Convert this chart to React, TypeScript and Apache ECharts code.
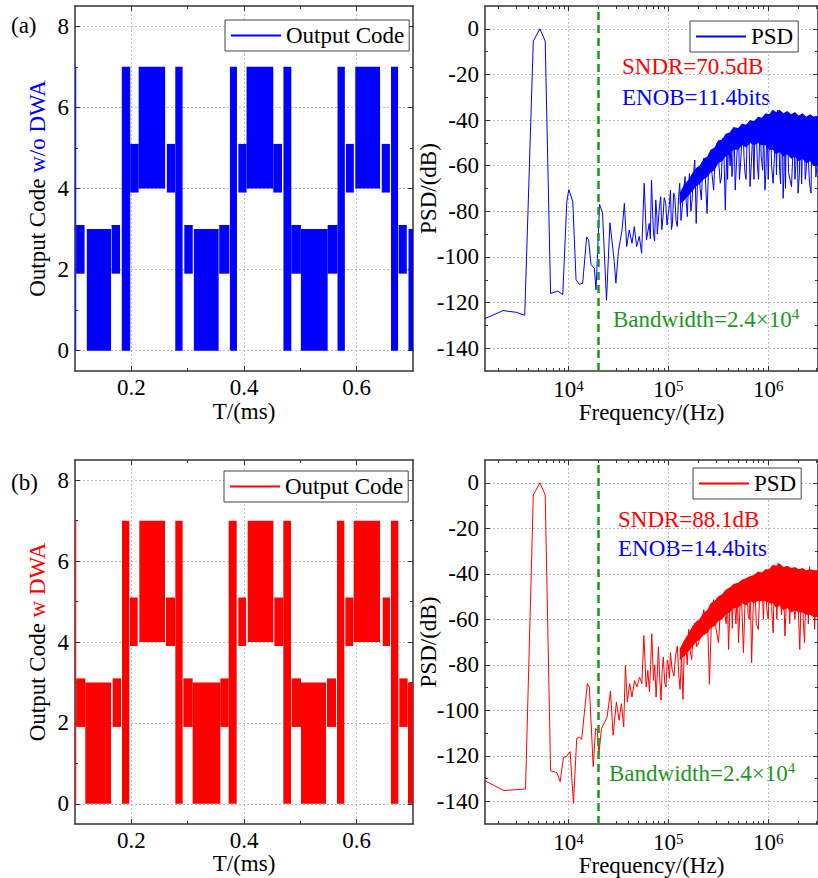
import React, { useEffect, useRef } from 'react';
import * as echarts from 'echarts';

const FONT = 'Liberation Serif, Times New Roman, serif';
const BLUE = '#0000ff';
const RED = '#ff0000';
const GREEN = '#1e961e';

// ---- time-domain output code: dense toggling blocks [tStart(ms), tEnd(ms), lowCode, highCode]
const codeBlocksA = [
  [0.1006, 0.1022, 0, 7], [0.102, 0.117, 1.9, 3.1], [0.121, 0.164, 0, 3], [0.165, 0.18, 1.9, 3.1],
  [0.183, 0.198, 0, 7], [0.198, 0.213, 3.9, 5.1], [0.213, 0.26, 4, 7], [0.263, 0.2775, 3.9, 5.1],
  [0.278, 0.291, 0, 7], [0.294, 0.309, 1.9, 3.1], [0.311, 0.355, 0, 3], [0.356, 0.374, 1.9, 3.1],
  [0.375, 0.3875, 0, 7], [0.39, 0.4045, 3.9, 5.1], [0.4045, 0.452, 4, 7], [0.452, 0.4675, 3.9, 5.1],
  [0.47, 0.484, 0, 7], [0.484, 0.501, 1.9, 3.1], [0.501, 0.5485, 0, 3], [0.5485, 0.566, 1.9, 3.1],
  [0.566, 0.579, 0, 7], [0.581, 0.595, 3.9, 5.1], [0.5975, 0.6415, 4, 7], [0.6445, 0.659, 3.9, 5.1],
  [0.661, 0.6735, 0, 7], [0.6745, 0.689, 1.9, 3.1], [0.692, 0.7, 0, 3],
];
const codeBlocksB = [
  [0.1006, 0.1022, 0, 7], [0.102, 0.1183, 1.9, 3.1], [0.1183, 0.164, 0, 3], [0.1669, 0.1817, 1.9, 3.1],
  [0.1834, 0.1964, 0, 7], [0.1976, 0.2112, 3.9, 5.1], [0.2142, 0.2598, 4, 7], [0.2615, 0.2775, 3.9, 5.1],
  [0.2781, 0.2911, 0, 7], [0.2923, 0.3089, 1.9, 3.1], [0.3089, 0.358, 0, 3], [0.358, 0.3728, 1.9, 3.1],
  [0.3728, 0.387, 0, 7], [0.3899, 0.4036, 3.9, 5.1], [0.4065, 0.4521, 4, 7], [0.4538, 0.4698, 3.9, 5.1],
  [0.4698, 0.4834, 0, 7], [0.4846, 0.5012, 1.9, 3.1], [0.5012, 0.5456, 0, 3], [0.5473, 0.5633, 1.9, 3.1],
  [0.5651, 0.5781, 0, 7], [0.5799, 0.5941, 3.9, 5.1], [0.5947, 0.6414, 4, 7], [0.6462, 0.6592, 3.9, 5.1],
  [0.6609, 0.674, 0, 7], [0.6757, 0.6905, 1.9, 3.1], [0.6911, 0.7, 0, 3],
];

// ---- PSD without DWA: [frequency (Hz), PSD (dB)]
const psdALow = [[1460, -127], [2218, -123.5], [3020, -124.3], [3648, -125.6], [4446, -5.4], [5176, 0],
  [5848, -5.4], [6622, -116], [7834, -115], [8770, -116.5], [9616, -76], [10070, -70.5], [11040, -75.6],
  [11910, -110], [12850, -112], [13870, -111.5], [15210, -91.3], [15920, -92.5], [16830, -103.4],
  [18160, -105], [18880, -114.4], [20500, -77], [21930, -80.7], [24040, -119], [26000, -85], [27230, -92.6],
  [28710, -102], [29850, -111.5], [31620, -97.6], [34400, -88.2], [36300, -76.5], [38300, -95.5],
  [40600, -88.2], [43300, -94], [45600, -86.7], [48100, -95.5], [51200, -91], [54000, -98.4], [57300, -67.7],
  [60400, -92.6]];
const psdAHigh = [[64300, -85.3], [66000, -92], [67800, -66.3], [69500, -80], [71000, -89.6], [72800, -93],
  [74800, -75], [76800, -82], [77500, -90], [79600, -83.8], [81500, -78], [83900, -73.6], [86000, -88],
  [88500, -82.3], [91000, -74], [94200, -76.5], [97000, -86], [100000, -80.9], [102500, -77], [105000, -70.7],
  [107500, -88], [110000, -85.3], [113000, -72], [116000, -73.6], [119500, -84], [123000, -86.7],
  [126500, -74], [130000, -67.7], [134000, -84], [138000, -78], [142500, -70], [147000, -64.8], [151000, -76],
  [155000, -82.3], [159000, -68], [163000, -63.4], [168000, -80], [173000, -75], [178000, -64],
  [184000, -57.5], [190000, -85.3], [196000, -66], [202000, -61.9], [208000, -70], [214000, -75],
  [220000, -62], [226000, -56.8], [235000, -66], [244000, -80.9], [254000, -58], [264000, -54.6],
  [274000, -64], [284000, -70.7], [295000, -55], [307000, -50.2], [319000, -58], [331000, -67.7],
  [340000, -65], [350000, -48], [360000, -55], [372000, -79.4], [385000, -52], [392000, -66], [401000, -47.3],
  [415000, -60], [425000, -50], [433000, -64.8], [440000, -62], [450000, -45], [458000, -48], [467000, -70.7],
  [480000, -60], [490000, -52], [504000, -44.4], [515000, -66], [530000, -58], [545000, -48], [560000, -43],
  [572000, -56], [586000, -63.4], [600000, -66], [620000, -42], [640000, -45], [658000, -69.2], [680000, -58],
  [700000, -44], [720000, -66], [738000, -41.5], [760000, -44], [780000, -60], [800000, -66], [830000, -40],
  [850000, -56], [880000, -62], [900000, -44], [927000, -70.7], [950000, -62], [970000, -39], [1000000, -66],
  [1040000, -38.5], [1060000, -45], [1080000, -60], [1120000, -67.7], [1150000, -57], [1180000, -37],
  [1210000, -64], [1240000, -35.6], [1270000, -40], [1300000, -62], [1330000, -68], [1360000, -37],
  [1390000, -50], [1410000, -74.3], [1440000, -63], [1460000, -39], [1490000, -70], [1520000, -37],
  [1560000, -45], [1600000, -63], [1650000, -66], [1710000, -69.2], [1750000, -58], [1800000, -38],
  [1850000, -66], [1890000, -60], [1940000, -45], [1990000, -72.1], [2050000, -64], [2100000, -40],
  [2160000, -68], [2230000, -37.8], [2300000, -50], [2350000, -66], [2400000, -62], [2480000, -42],
  [2540000, -60], [2590000, -67.7], [2680000, -72], [2750000, -40], [2820000, -60], [2910000, -38.5],
  [3000000, -65], [3160000, -55]];
const bandAFreq = [130000, 145000, 160000, 175000, 190000, 205000, 225000, 245000, 265000, 290000, 315000,
  345000, 375000, 410000, 450000, 500000, 550000, 600000, 660000, 720000, 790000, 860000, 940000, 1020000,
  1110000, 1200000, 1300000, 1420000, 1550000, 1700000, 1850000, 2020000, 2200000, 2400000, 2620000,
  2860000, 3200000];
const bandAUpper = [-72, -68, -66, -63, -61, -60, -57, -56, -53, -52, -49, -48.5, -46, -45.5, -43, -43.5,
  -41.5, -42, -40, -40.5, -38.5, -39, -37, -37.5, -35.5, -36.5, -35.5, -37, -36, -37.5, -36.5, -38, -37,
  -38.5, -37.5, -38.5, -38];
const bandALower = [-77, -75, -73, -71, -69, -68, -66, -65, -63, -62, -59, -58, -56, -55, -53, -53, -51,
  -52, -50, -51, -50, -51, -51, -53, -53, -55, -54, -56, -55, -57, -56, -58, -57, -59, -58, -60, -60];

// ---- PSD with DWA: [frequency (Hz), PSD (dB)]
const psdBLow = [[1460, -131], [2260, -135.3], [3715, -134.6], [4446, -5.4], [5176, 0], [5848, -5.4],
  [6622, -126.6], [7650, -127.4], [8260, -131.4], [8910, -120.7], [9480, -120.4], [10390, -118.2],
  [11220, -140.9], [12100, -112.4], [12860, -111.7], [13560, -112.8], [15450, -88.3], [16180, -89.8],
  [17700, -124.8], [18700, -108], [19400, -108.8], [20180, -119], [21420, -108], [23120, -105.1],
  [24380, -102.9], [26340, -91.5], [27990, -111], [30200, -96.4], [32140, -104.4], [33880, -97.1],
  [35730, -107.3], [37150, -80.3], [38840, -96.4], [41000, -88.3], [43250, -94.2], [45920, -86.9],
  [48420, -89.8], [51520, -85.4], [54330, -88.3], [56890, -67.2], [59980, -89.8]];
const psdBHigh = [[62370, -82.5], [64730, -92], [66500, -80], [68240, -66.4], [71000, -86.9], [73000, -80],
  [75400, -94.2], [77500, -84], [79600, -72.3], [82000, -86], [84500, -95.6], [86800, -82], [89100, -76.6],
  [92000, -88], [94800, -89.8], [97500, -78], [100000, -80], [102500, -86], [105000, -74.7], [109000, -82],
  [114000, -85], [118000, -76], [123000, -71.8], [127000, -84], [131000, -90.8], [135500, -76],
  [140000, -95.2], [144500, -72], [149000, -68.9], [154500, -80], [160000, -64.5], [165500, -74],
  [171000, -77.7], [177500, -66], [184000, -61.6], [192000, -72], [202000, -70.4], [210000, -60],
  [218000, -66], [226000, -55.8], [235000, -64], [246000, -58], [258000, -88.6], [270000, -60],
  [284000, -51.4], [300000, -64], [318000, -70.4], [330000, -58], [340000, -52], [357000, -49.9],
  [368000, -58], [380000, -62], [390000, -50], [401000, -73.3], [412000, -56], [425000, -48], [437000, -64],
  [449000, -45.5], [462000, -54], [475000, -62], [490000, -48], [504000, -70.4], [520000, -56], [535000, -46],
  [550000, -60], [565000, -74.7], [588000, -50], [610000, -44.1], [628000, -58], [645000, -60], [662000, -46],
  [682000, -79.1], [705000, -56], [730000, -43], [760000, -62], [796000, -64.5], [828000, -44], [860000, -41],
  [895000, -60], [927000, -39.7], [965000, -55], [1000000, -60], [1030000, -42], [1060000, -38],
  [1090000, -58], [1120000, -66], [1150000, -44], [1180000, -37], [1220000, -60], [1260000, -35.3],
  [1310000, -48], [1360000, -58], [1410000, -40], [1470000, -67.4], [1520000, -52], [1580000, -38],
  [1640000, -62], [1710000, -37.5], [1780000, -50], [1850000, -60], [1950000, -42], [2070000, -73.3],
  [2120000, -55], [2180000, -40], [2240000, -60], [2310000, -70.4], [2380000, -48], [2450000, -39],
  [2520000, -62], [2590000, -36.8], [2670000, -52], [2750000, -58], [2830000, -42], [2910000, -64.5],
  [3020000, -48], [3160000, -50]];
const bandBFreq = [130000, 145000, 160000, 175000, 190000, 205000, 225000, 245000, 265000, 290000, 315000,
  345000, 375000, 410000, 450000, 500000, 550000, 600000, 660000, 720000, 790000, 860000, 940000, 1020000,
  1110000, 1200000, 1300000, 1420000, 1550000, 1700000, 1850000, 2020000, 2200000, 2400000, 2620000,
  2860000, 3200000];
const bandBUpper = [-73, -69, -66, -63, -61, -60, -57, -56, -53, -52, -50, -49, -47, -46, -44.5, -44, -42.5,
  -42, -41, -40.5, -39, -39.5, -38, -38, -36, -36.5, -35.5, -37, -36.5, -37.5, -37, -38, -37.5, -38.5, -38,
  -38.5, -38.5];
const bandBLower = [-78, -76, -74, -72, -70, -69, -67, -66, -64, -63, -61, -60, -58, -57, -55, -55, -53, -54,
  -52, -53, -52, -52, -52, -53, -53, -55, -54, -56, -55, -57, -56, -57, -57, -58, -58, -59, -59];

const bandwidthFreq = 20000;

// ---- tick values
const timeMajor = [0.2, 0.4, 0.6];
const timeMinor = [0.3, 0.5];
const codeMajor = [0, 2, 4, 6, 8];
const codeMinor = [1, 3, 5, 7];
const freqMajor = [1e4, 1e5, 1e6];
const freqMinor = [2e3, 3e3, 4e3, 5e3, 6e3, 7e3, 8e3, 9e3, 2e4, 3e4, 4e4, 5e4, 6e4, 7e4, 8e4, 9e4,
  2e5, 3e5, 4e5, 5e5, 6e5, 7e5, 8e5, 9e5, 2e6, 3e6];
const psdMajor = [0, -20, -40, -60, -80, -100, -120, -140];
const psdMinor = [-10, -30, -50, -70, -90, -110, -130];

const FRAME = { color: '#333', width: 1.5 };
const GRIDLINE = { color: '#bdbdbd', type: [2, 2], width: 1 };
const txt = { fontSize: 23, fontFamily: FONT, color: '#000' };
const supRich = {
  b: { fontSize: 23, fontFamily: FONT, color: '#000' },
  s: { fontSize: 15, fontFamily: FONT, color: '#000', padding: [0, 0, 8, 0] },
};

function axesSet(dim: 'x' | 'y', gridIndex: number, type: string, min: number, max: number,
  major: number[], minor: number[], formatter: any, name: any, nameGap: number, labelMargin: number,
  rich?: any) {
  const common: any = { gridIndex, type, min, max };
  if (type === 'log') common.logBase = 10;
  const p1 = dim === 'x' ? 'bottom' : 'left';
  const p2 = dim === 'x' ? 'top' : 'right';
  const none = { show: false };
  return [
    {
      ...common, position: p1, name, nameLocation: 'middle', nameGap, nameMoveOverlap: false,
      nameTextStyle: { ...txt, rich },
      axisLine: { show: true, onZero: false, lineStyle: FRAME },
      axisTick: { show: true, inside: true, length: 5, customValues: major, lineStyle: { color: '#333', width: 1 } },
      axisLabel: { show: true, customValues: major, formatter, margin: labelMargin, ...txt, rich: supRich },
      splitLine: { show: true, lineStyle: GRIDLINE },
      minorTick: none, minorSplitLine: none,
    },
    {
      ...common, position: p1,
      axisLine: { show: false, onZero: false },
      axisTick: { show: true, inside: true, length: 3, customValues: minor, lineStyle: { color: '#333', width: 1 } },
      axisLabel: none, splitLine: none,
    },
    {
      ...common, position: p2,
      axisLine: { show: true, onZero: false, lineStyle: FRAME },
      axisTick: { show: true, inside: true, length: 5, customValues: major, lineStyle: { color: '#333', width: 1 } },
      axisLabel: none, splitLine: none,
    },
    {
      ...common, position: p2,
      axisLine: { show: false, onZero: false },
      axisTick: { show: true, inside: true, length: 3, customValues: minor, lineStyle: { color: '#333', width: 1 } },
      axisLabel: none, splitLine: none,
    },
  ];
}

function blockSeries(name: string, idx: number, blocks: number[][], color: string) {
  return {
    type: 'custom', name, xAxisIndex: idx, yAxisIndex: idx, clip: true, silent: true,
    data: blocks, encode: { x: [0, 1], y: [2, 3] },
    renderItem: (params: any, api: any) => {
      const p0 = api.coord([api.value(0), api.value(3)]);
      const p1 = api.coord([api.value(1), api.value(2)]);
      return {
        type: 'rect',
        shape: { x: p0[0], y: p0[1], width: p1[0] - p0[0], height: p1[1] - p0[1] },
        style: { fill: color },
      };
    },
    z: 2,
  };
}

function bandSeries(name: string, idx: number, f: number[], up: number[], low: number[], color: string) {
  return {
    type: 'custom', name, xAxisIndex: idx, yAxisIndex: idx, clip: true, silent: true,
    data: f.map((v, i) => [v, up[i], low[i]]), encode: { x: 0, y: [1, 2] },
    renderItem: (params: any, api: any) => {
      if (params.dataIndex !== 0) return null;
      const pts: number[][] = [];
      for (let i = 0; i < f.length; i++) pts.push(api.coord([f[i], up[i]]));
      for (let i = f.length - 1; i >= 0; i--) pts.push(api.coord([f[i], low[i]]));
      return { type: 'polygon', shape: { points: pts }, style: { fill: color } };
    },
    z: 2,
  };
}

function psdSeries(name: string, idx: number, pairs: number[][], color: string) {
  const data = pairs.slice().sort((a, b) => a[0] - b[0]);
  return {
    type: 'line', name, xAxisIndex: idx, yAxisIndex: idx, symbol: 'none', showSymbol: false,
    data, lineStyle: { color, width: 1 }, itemStyle: { color },
    silent: true, z: 3,
    markLine: {
      silent: true, symbol: ['none', 'none'], label: { show: false },
      lineStyle: { color: GREEN, width: 2.5, type: [8, 5] },
      emphasis: { disabled: true },
      data: [{ xAxis: bandwidthFreq }],
    },
  };
}

function legendFor(name: string, label: string, left: number, top: number) {
  return {
    data: [name], left, top, orient: 'horizontal',
    formatter: () => label,
    itemWidth: 50, itemHeight: 2, itemGap: 5,
    itemStyle: { opacity: 0 },
    padding: [4, 5, 4, 5],
    borderColor: '#444', borderWidth: 1, backgroundColor: '#fff',
    textStyle: { ...txt }, selectedMode: false,
  };
}

const timeFmt = (v: number) => v.toFixed(1);
const codeFmt = (v: number) => String(v);
const freqFmt = (v: number) => `{b|10}{s|${Math.round(Math.log10(v))}}`;
const psdFmt = (v: number) => String(v);

export default function App() {
  const ref = useRef<HTMLDivElement>(null);
  useEffect(() => {
    if (!ref.current) return;
    const chart = echarts.init(ref.current, undefined, { renderer: 'svg' });
    const grids = [
      { left: 75, top: 6, width: 338, height: 365 },
      { left: 485, top: 6, width: 335, height: 365 },
      { left: 75, top: 460, width: 338, height: 364 },
      { left: 485, top: 460, width: 335, height: 364 },
    ];
    const nameRichA = { k: { ...txt }, c: { ...txt, color: BLUE } };
    const nameRichB = { k: { ...txt }, c: { ...txt, color: RED } };
    const xAxis = [
      ...axesSet('x', 0, 'value', 0.1, 0.7, timeMajor, timeMinor, timeFmt, 'T/(ms)', 29, 5),
      ...axesSet('x', 1, 'log', 1460, 3.15e6, freqMajor, freqMinor, freqFmt, 'Frequency/(Hz)', 30, 7),
      ...axesSet('x', 2, 'value', 0.1, 0.7, timeMajor, timeMinor, timeFmt, 'T/(ms)', 28, 5),
      ...axesSet('x', 3, 'log', 1460, 3.15e6, freqMajor, freqMinor, freqFmt, 'Frequency/(Hz)', 30, 7),
    ];
    const yAxis = [
      ...axesSet('y', 0, 'value', -0.5, 8.5, codeMajor, codeMinor, codeFmt, '{k|Output Code }{c|w/o DWA}', 26, 6, nameRichA),
      ...axesSet('y', 1, 'value', -150, 10, psdMajor, psdMinor, psdFmt, 'PSD/(dB)', 45, 6),
      ...axesSet('y', 2, 'value', -0.5, 8.5, codeMajor, codeMinor, codeFmt, '{k|Output Code }{c|w DWA}', 26, 6, nameRichB),
      ...axesSet('y', 3, 'value', -150, 10, psdMajor, psdMinor, psdFmt, 'PSD/(dB)', 45, 6),
    ];
    const series: any[] = [
      blockSeries('blocksA', 0, codeBlocksA, BLUE),
      { type: 'line', name: 'codeA', xAxisIndex: 0, yAxisIndex: 0, data: [], symbol: 'none', lineStyle: { color: BLUE, width: 1 }, itemStyle: { color: BLUE } },
      bandSeries('bandA', 4, bandAFreq, bandAUpper, bandALower, BLUE),
      psdSeries('psdA', 4, [...psdALow, ...psdAHigh], BLUE),
      blockSeries('blocksB', 8, codeBlocksB, RED),
      { type: 'line', name: 'codeB', xAxisIndex: 8, yAxisIndex: 8, data: [], symbol: 'none', lineStyle: { color: RED, width: 1 }, itemStyle: { color: RED } },
      bandSeries('bandB', 12, bandBFreq, bandBUpper, bandBLower, RED),
      psdSeries('psdB', 12, [...psdBLow, ...psdBHigh], RED),
    ];
    const t = (x: number, y: number, text: string, fill: string) => ({
      type: 'text', x, y, silent: true,
      style: { text, fill, fontSize: 23, fontFamily: FONT, verticalAlign: 'middle' },
    });
    const bw = (x: number, y: number) => ({
      type: 'text', x, y, silent: true,
      style: {
        text: '{a|Bandwidth=2.4×10}{s|4}', verticalAlign: 'middle',
        rich: {
          a: { fontSize: 23, fontFamily: FONT, fill: GREEN },
          s: { fontSize: 15, fontFamily: FONT, fill: GREEN, padding: [0, 0, 10, 0] },
        },
      },
    });
    chart.setOption({
      animation: false,
      backgroundColor: '#fff',
      grid: grids,
      xAxis,
      yAxis,
      series,
      legend: [
        legendFor('codeA', 'Output Code', 225, 20),
        legendFor('psdA', 'PSD', 690, 21),
        legendFor('codeB', 'Output Code', 224, 471),
        legendFor('psdB', 'PSD', 693, 468),
      ],
      graphic: [
        t(11, 25, '(a)', '#000'),
        t(11, 482, '(b)', '#000'),
        t(622, 66, 'SNDR=70.5dB', RED),
        t(622, 97, 'ENOB=11.4bits', BLUE),
        bw(613, 319),
        t(618, 519, 'SNDR=88.1dB', RED),
        t(618, 548, 'ENOB=14.4bits', BLUE),
        bw(609, 773),
      ],
    });
    return () => chart.dispose();
  }, []);
  return <div ref={ref} style={{ position: 'fixed', left: 0, top: 0, width: 818, height: 878 }} />;
}
